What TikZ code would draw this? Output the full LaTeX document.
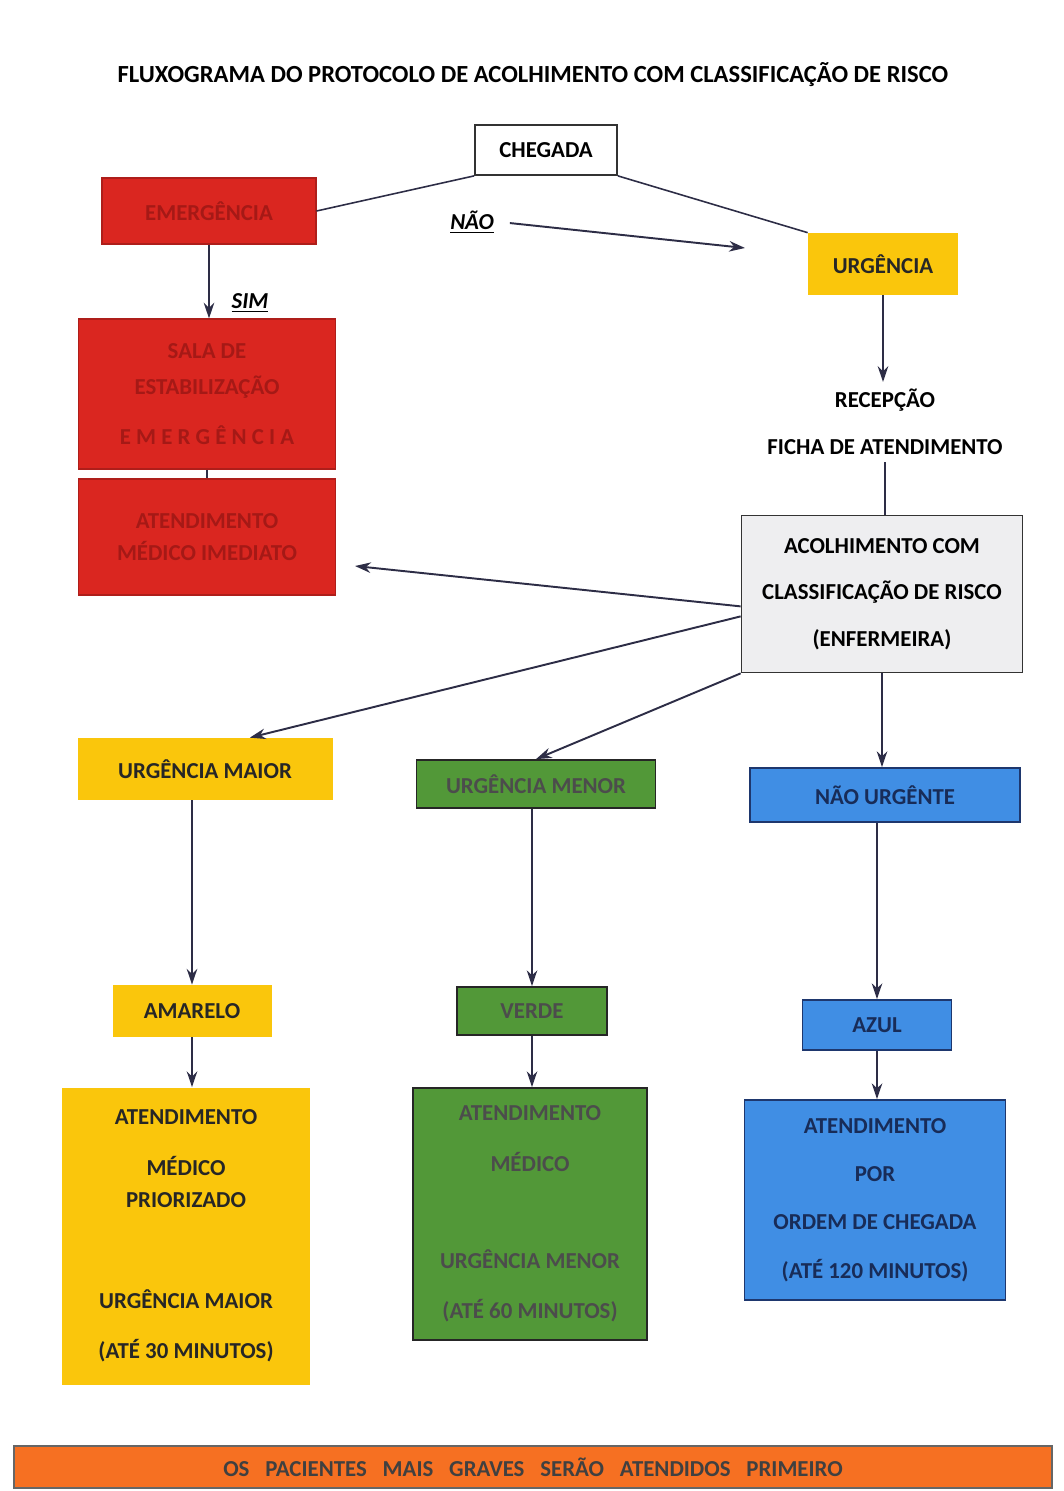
\documentclass[tikz,border=0pt]{standalone}
\usepackage{fontspec}
\setmainfont{Carlito}
\usetikzlibrary{arrows.meta}

\definecolor{emred}{RGB}{218,38,32}
\definecolor{emredtext}{RGB}{165,25,22}
\definecolor{urgyellow}{RGB}{250,198,12}
\definecolor{mingreen}{RGB}{82,152,56}
\definecolor{nublue}{RGB}{64,142,228}
\definecolor{nublueline}{RGB}{30,55,110}
\definecolor{notegray}{RGB}{238,238,240}
\definecolor{footorange}{RGB}{246,112,34}
\definecolor{linec}{RGB}{45,45,70}

\newcommand{\px}{0.02cm}
\newcommand{\boxfont}{\bfseries\fontsize{13}{18.5}\selectfont}

\tikzset{
	flowbox/.style={align=center, inner sep=0pt, font=\boxfont},
	redbox/.style={flowbox, fill=emred, draw=emred!80!black, line width=0.6pt, text=emredtext},
	yellowbox/.style={flowbox, fill=urgyellow, text=black!85},
	greenbox/.style={flowbox, fill=mingreen, draw=black!85, line width=1pt, text=black!70},
	bluebox/.style={flowbox, fill=nublue, draw=nublueline, line width=1pt, text=nublueline!80!black},
	arr/.style={draw=linec, line width=1.1pt, -{Stealth[length=9pt,width=6pt]}},
	ln/.style={draw=linec, line width=0.9pt},
	answer/.style={font=\bfseries\itshape\fontsize{13}{15}\selectfont}
}

\begin{document}
\begin{tikzpicture}[x=\px, y=-\px]
				\useasboundingbox (0,0) rectangle (1064,1491);
				% Title
				\node (title) at (533,75) {\bfseries\fontsize{14}{16}\selectfont FLUXOGRAMA DO PROTOCOLO DE ACOLHIMENTO COM CLASSIFICAÇÃO DE RISCO};
				% Arrival and first split
				\node [flowbox, draw=black!80, line width=1pt, fill=white, minimum width=142*\px, minimum height=50*\px] (chegada) at (546,150) {CHEGADA};
				\node [redbox, minimum width=214*\px, minimum height=66*\px] (emerg) at (209,211) {EMERGÊNCIA};
				\node [yellowbox, minimum width=150*\px, minimum height=62*\px] (urg) at (883,264) {URGÊNCIA};
				\node [answer] (nao) at (472,222) {\underline{NÃO}};
				\node [answer] (sim) at (250,303) {\underline{SIM}};
				\coordinate (naoend) at (745,248);
				\draw [ln] (chegada.south west) -- (emerg.east);
				\draw [ln] (chegada.south east) -- (urg.north west);
				\draw [arr, shorten <=10*\px] (nao.east) -- (naoend);
				% Emergency branch
				\node [redbox, minimum width=257*\px, minimum height=150*\px] (sala) at (207,394) {SALA DE\\[2pt] ESTABILIZAÇÃO\\[10pt] E M E R G Ê N C I A};
				\node [redbox, minimum width=257*\px, minimum height=116*\px] (imed) at (207,537) {ATENDIMENTO\\ MÉDICO IMEDIATO};
				\draw [arr] (emerg.south) -- (emerg.south |- sala.north);
				\draw [ln] (sala.south) -- (imed.north);
				% Reception and nurse
				\node [flowbox, inner sep=4pt] (recep) at (885,422) {RECEPÇÃO\\[8pt] FICHA DE ATENDIMENTO};
				\node [flowbox, draw=black!80, line width=1pt, fill=notegray, minimum width=281*\px, minimum height=157*\px] (acolh) at (882,594) {ACOLHIMENTO COM\\[8pt] CLASSIFICAÇÃO DE RISCO\\[8pt] (ENFERMEIRA)};
				\coordinate (imedin) at (355,566);
				\draw [arr] (urg.south) -- (urg.south |- recep.north);
				\draw [ln] (recep.south) -- (recep.south |- acolh.north);
				\draw [arr] (acolh.185) -- (imedin);
				% Risk classes
				\node [yellowbox, minimum width=255*\px, minimum height=62*\px] (umaior) at (205,769) {URGÊNCIA MAIOR};
				\node [greenbox, minimum width=239*\px, minimum height=48*\px] (umenor) at (536,784) {URGÊNCIA MENOR};
				\node [bluebox, minimum width=270*\px, minimum height=54*\px] (nurg) at (885,795) {NÃO URGÊNTE};
				\draw [arr] (acolh.189) -- (umaior.35);
				\draw [arr] (acolh.south west) -- (umenor.north);
				\draw [arr] (acolh.south) -- (acolh.south |- nurg.north);
				% Colours
				\node [yellowbox, minimum width=159*\px, minimum height=52*\px] (amarelo) at (192,1011) {AMARELO};
				\node [greenbox, minimum width=150*\px, minimum height=48*\px] (verde) at (532,1011) {VERDE};
				\node [bluebox, minimum width=149*\px, minimum height=50*\px] (azul) at (877,1025) {AZUL};
				\draw [arr] (amarelo.north |- umaior.south) -- (amarelo.north);
				\draw [arr] (verde.north |- umenor.south) -- (verde.north);
				\draw [arr] (azul.north |- nurg.south) -- (azul.north);
				% Care
				\node [yellowbox, minimum width=248*\px, minimum height=297*\px] (atmaior) at (186,1236) {ATENDIMENTO\\[10pt] MÉDICO\\ PRIORIZADO\\[39pt] URGÊNCIA MAIOR\\[10pt] (ATÉ 30 MINUTOS)};
				\node [greenbox, minimum width=234*\px, minimum height=252*\px] (atmenor) at (530,1214) {ATENDIMENTO\\[10pt] MÉDICO\\[37pt] URGÊNCIA MENOR\\[10pt] (ATÉ 60 MINUTOS)};
				\node [bluebox, minimum width=261*\px, minimum height=200*\px] (atazul) at (875,1200) {ATENDIMENTO\\[9pt] POR\\[9pt] ORDEM DE CHEGADA\\[9pt] (ATÉ 120 MINUTOS)};
				\draw [arr] (amarelo.south) -- (amarelo.south |- atmaior.north);
				\draw [arr] (verde.south) -- (verde.south |- atmenor.north);
				\draw [arr] (azul.south) -- (azul.south |- atazul.north);
				% Footer
				\node [flowbox, fill=footorange, draw=black!60, line width=0.8pt, minimum width=1038*\px, minimum height=42*\px, text=black!75] (footer) at (533,1467) {OS\hspace{9pt}PACIENTES\hspace{9pt}MAIS\hspace{9pt}GRAVES\hspace{9pt}SERÃO\hspace{9pt}ATENDIDOS\hspace{9pt}PRIMEIRO};
\end{tikzpicture}
\end{document}
